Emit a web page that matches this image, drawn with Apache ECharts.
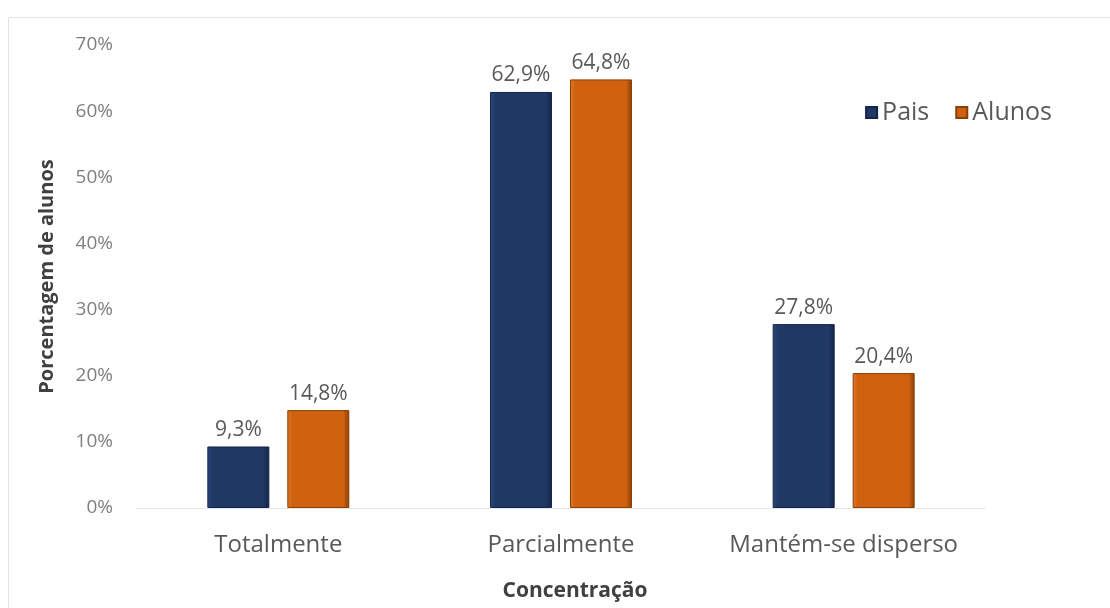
<!DOCTYPE html>
<html>
<head>
<meta charset="utf-8">
<script src="https://cdn.jsdelivr.net/npm/echarts@6/dist/echarts.min.js"></script>
<style>
  html, body { margin: 0; padding: 0; background: #ffffff; overflow: hidden; }
  #chart { width: 1110px; height: 608px; }
</style>
</head>
<body>
<div id="chart"></div>
<script>
// Categories and series values (percent)
const categories = ['Totalmente', 'Parcialmente', 'Mantém-se disperso'];
const pais = [9.3, 62.9, 27.8];
const alunos = [14.8, 64.8, 20.4];
const seriesNames = ['Pais', 'Alunos'];

const FONT = '"Open Sans", "Noto Sans", sans-serif';

// Slightly bevelled bar fill: lighter left edge, darker right edge
function barStyle(base, edge, light) {
  return {
    color: {
      type: 'linear', x: 0, y: 0, x2: 1, y2: 0,
      colorStops: [
        { offset: 0, color: light },
        { offset: 0.08, color: base },
        { offset: 0.9, color: base },
        { offset: 1, color: edge }
      ]
    },
    borderColor: edge,
    borderWidth: 1
  };
}

const fmt = v => v.value.toFixed(1).replace('.', ',') + '%';

const chart = echarts.init(document.getElementById('chart'), null, { renderer: 'canvas' });
chart.setOption({
  backgroundColor: '#ffffff',
  animation: false,
  textStyle: { fontFamily: FONT },
  graphic: [{
    type: 'rect',
    shape: { x: 8.5, y: 17.5, width: 1120, height: 620 },
    style: { fill: 'none', stroke: '#e2e2e2', lineWidth: 1 },
    silent: true
  }],
  grid: { left: 137, right: 125, top: 45, bottom: 100, outerBoundsMode: 'none', containLabel: false },
  legend: {
    data: seriesNames,
    right: 53, top: 95,
    itemWidth: 11, itemHeight: 11, itemGap: 26,
    icon: 'rect',
    textStyle: { color: '#595959', fontSize: 25, fontFamily: FONT }
  },
  xAxis: {
    type: 'category',
    data: categories,
    name: 'Concentração',
    nameLocation: 'middle',
    nameGap: 73,
    nameTextStyle: { color: '#404040', fontSize: 21, fontWeight: 'bold', fontFamily: FONT, padding: [0, 0, 0, 28] },
    axisLine: { lineStyle: { color: '#e6e6e6', width: 1 } },
    axisTick: { show: false },
    axisLabel: { color: '#595959', fontSize: 24, margin: 25, interval: 0, hideOverlap: false, fontFamily: FONT }
  },
  yAxis: {
    type: 'value',
    min: 0, max: 70, interval: 10,
    name: 'Porcentagem de alunos',
    nameLocation: 'middle',
    nameGap: 80,
    nameTextStyle: { color: '#404040', fontSize: 20, fontWeight: 'bold', fontFamily: FONT },
    axisLine: { show: false },
    axisTick: { show: false },
    splitLine: { show: false },
    axisLabel: { color: '#7f7f7f', fontSize: 19, margin: 24, formatter: '{value}%', fontFamily: FONT }
  },
  series: [
    {
      name: 'Pais', type: 'bar', data: pais,
      barWidth: 62, barGap: '29%',
      itemStyle: barStyle('#203864', '#14244a', '#2c4a80'),
      label: { show: true, position: 'top', distance: 6, color: '#595959', fontSize: 21, fontFamily: FONT, formatter: fmt }
    },
    {
      name: 'Alunos', type: 'bar', data: alunos,
      barWidth: 62,
      itemStyle: barStyle('#d0620f', '#8a3f08', '#e07a2a'),
      label: { show: true, position: 'top', distance: 6, color: '#595959', fontSize: 21, fontFamily: FONT, formatter: fmt }
    }
  ]
});
</script>
</body>
</html>
